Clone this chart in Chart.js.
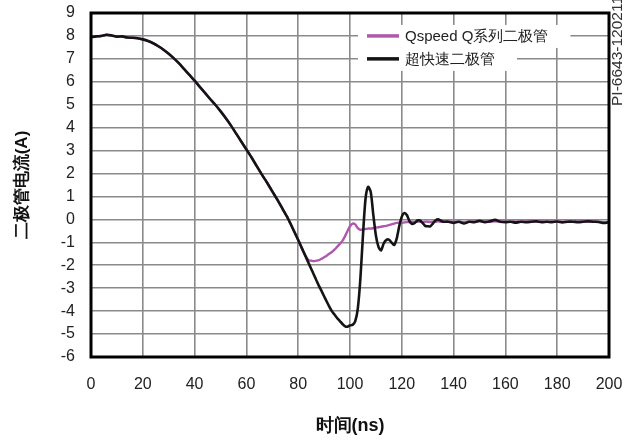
<!DOCTYPE html>
<html>
<head>
<meta charset="utf-8">
<script src="https://cdn.jsdelivr.net/npm/chart.js@4.4.1/dist/chart.umd.min.js"></script>
<style>
  html, body { margin: 0; padding: 0; background: #fff; }
  canvas { display: block; }
</style>
</head>
<body>
<canvas id="line-chart" width="624" height="441"></canvas>
<script>
// time axis (ns), finer around the switching event
var timeNs = [0,2,4,6,8,10,12,14,16,18,20,22,24,26,28,30,32,34,36,38,40,42,44,46,48,50,52,54,56,58,60,62,64,66,68,70,72,74,76,
  77,78,79,80,81,82,83,84,85,86,87,88,89,90,91,92,93,94,95,96,97,98,99,100,101,102,103,104,105,106,107,108,109,110,
  111,112,113,114,115,116,117,118,119,120,121,122,123,124,125,126,127,128,129,130,131,132,133,134,135,136,
  138,140,142,144,146,148,150,152,154,156,158,160,162,164,166,168,170,172,174,176,178,180,182,184,186,188,190,192,194,196,198,200];

// 超快速二极管 (ultrafast diode)
var ultrafastA = [7.95,7.98,8.0,8.05,8.02,7.97,7.98,7.93,7.92,7.9,7.85,7.78,7.68,7.55,7.4,7.22,7.02,6.8,6.55,6.3,6.05,5.78,5.52,5.25,5.0,4.72,4.42,4.1,3.75,3.4,3.05,2.7,2.32,1.95,1.6,1.22,0.85,0.45,0.05,
  -0.18,-0.42,-0.66,-0.9,-1.15,-1.4,-1.65,-1.9,-2.15,-2.4,-2.65,-2.9,-3.12,-3.35,-3.58,-3.8,-4.0,-4.15,-4.3,-4.42,-4.55,-4.65,-4.68,-4.62,-4.6,-4.45,-3.9,-2.6,-0.7,0.9,1.42,1.2,0.2,-0.7,
  -1.2,-1.35,-1.05,-0.9,-0.88,-1.0,-1.12,-0.85,-0.3,0.12,0.28,0.18,-0.08,-0.2,-0.15,-0.05,-0.05,-0.15,-0.28,-0.3,-0.3,-0.18,-0.05,0.0,-0.05,-0.1,
  -0.1,-0.15,-0.1,-0.18,-0.1,-0.12,-0.06,-0.12,-0.08,-0.02,-0.1,-0.12,-0.1,-0.14,-0.1,-0.12,-0.1,-0.08,-0.12,-0.1,-0.12,-0.09,-0.13,-0.1,-0.1,-0.12,-0.1,-0.08,-0.1,-0.11,-0.16,-0.12];

// Qspeed Q系列二极管
var qspeedA = [7.95,7.98,8.0,8.05,8.02,7.97,7.98,7.93,7.92,7.9,7.85,7.78,7.68,7.55,7.4,7.22,7.02,6.8,6.55,6.3,6.05,5.78,5.52,5.25,5.0,4.72,4.42,4.1,3.75,3.4,3.05,2.7,2.32,1.95,1.6,1.22,0.85,0.45,0.05,
  -0.18,-0.42,-0.66,-0.9,-1.15,-1.4,-1.62,-1.78,-1.8,-1.82,-1.8,-1.78,-1.72,-1.65,-1.58,-1.5,-1.42,-1.32,-1.2,-1.08,-0.95,-0.75,-0.52,-0.3,-0.18,-0.22,-0.38,-0.45,-0.44,-0.42,-0.4,-0.4,-0.38,-0.36,
  -0.34,-0.32,-0.3,-0.28,-0.25,-0.22,-0.18,-0.15,-0.14,-0.15,-0.13,-0.12,-0.12,-0.1,-0.12,-0.1,-0.1,-0.12,-0.1,-0.1,-0.12,-0.1,-0.1,-0.08,-0.1,-0.1,
  -0.1,-0.1,-0.1,-0.12,-0.1,-0.1,-0.08,-0.1,-0.1,-0.08,-0.1,-0.1,-0.1,-0.1,-0.1,-0.1,-0.1,-0.1,-0.1,-0.1,-0.1,-0.1,-0.1,-0.1,-0.1,-0.1,-0.1,-0.1,-0.1,-0.1,-0.12,-0.12];

var seriesLabels = ["Qspeed Q系列二极管", "超快速二极管"];
var seriesColors = ["#ad5aad", "#141414"];
var xTitle = "时间(ns)";
var yTitle = "二极管电流(A)";
var figureId = "PI-6643-120211";

var FONT = "'Liberation Sans', Arial, Helvetica, sans-serif";

function toPoints(vals) {
  return vals.map(function (v, i) { return { x: timeNs[i], y: v }; });
}

// frame around the plot + legend boxes + side id
var decorations = {
  id: 'decorations',
  afterDatasetsDraw: function (chart) {
    var ctx = chart.ctx, a = chart.chartArea;
    var ys = chart.scales.y;
    ctx.save();
    ctx.strokeStyle = '#000';
    ctx.lineWidth = 3;
    ctx.strokeRect(a.left, a.top, a.right - a.left, a.bottom - a.top);

    // legend, drawn from the dataset labels / colours, rows sit on the 8 and 7 grid lines
    var lx = 358, rows = [ys.getPixelForValue(8), ys.getPixelForValue(7)];
    ctx.font = '15px ' + FONT;
    ctx.textBaseline = 'middle';
    for (var i = 0; i < seriesLabels.length; i++) {
      var y = rows[i];
      var w = ctx.measureText(seriesLabels[i]).width;
      ctx.fillStyle = '#fff';
      ctx.fillRect(lx, y - 11, 47 + w + 22, 23);
      ctx.strokeStyle = seriesColors[i];
      ctx.lineWidth = 3.5;
      ctx.beginPath();
      ctx.moveTo(lx + 9, y);
      ctx.lineTo(lx + 41, y);
      ctx.stroke();
      ctx.fillStyle = '#222';
      ctx.fillText(seriesLabels[i], lx + 47, y + 1);
    }

    // rotated figure id on the right edge
    ctx.translate(618, 106);
    ctx.rotate(-Math.PI / 2);
    ctx.font = '15.5px ' + FONT;
    ctx.fillStyle = '#333';
    ctx.textBaseline = 'middle';
    ctx.fillText(figureId, 0, 0);
    ctx.restore();
  }
};

var chart = new Chart(document.getElementById("line-chart"), {
  type: 'line',
  data: {
    datasets: [
      {
        label: seriesLabels[1],
        data: toPoints(ultrafastA),
        borderColor: seriesColors[1],
        borderWidth: 2.6,
        pointRadius: 0,
        tension: 0.25,
        fill: false
      },
      {
        label: seriesLabels[0],
        data: toPoints(qspeedA),
        borderColor: seriesColors[0],
        borderWidth: 2.4,
        pointRadius: 0,
        tension: 0.25,
        fill: false
      }
    ]
  },
  options: {
    responsive: false,
    animation: false,
    devicePixelRatio: 1,
    layout: { padding: { left: 0, right: 15, top: 13, bottom: 0 } },
    plugins: {
      legend: { display: false },
      tooltip: { enabled: false }
    },
    scales: {
      x: {
        type: 'linear',
        min: 0, max: 200,
        afterFit: function (s) { s.height = 84; s.paddingLeft = 0; s.paddingRight = 0; },
        ticks: { stepSize: 20, autoSkip: false, maxRotation: 0, color: '#222', padding: 18, font: { family: FONT, size: 16 } },
        grid: { color: '#8a8a8a', lineWidth: 1.6, drawTicks: false },
        border: { display: false },
        title: { display: true, text: xTitle, color: '#111', padding: { top: 0, bottom: 4 },
                 font: { family: FONT, size: 18, weight: 'bold' } }
      },
      y: {
        min: -6, max: 9,
        afterFit: function (s) { s.width = 91; s.paddingTop = 0; s.paddingBottom = 0; },
        ticks: { stepSize: 1, autoSkip: false, color: '#222', padding: 16, font: { family: FONT, size: 16 } },
        grid: { color: '#8a8a8a', lineWidth: 1.6, drawTicks: false },
        border: { display: false },
        title: { display: true, text: yTitle, color: '#111', padding: { top: 12, bottom: 0 },
                 font: { family: FONT, size: 17, weight: 'bold' } }
      }
    }
  },
  plugins: [decorations]
});
</script>
</body>
</html>
